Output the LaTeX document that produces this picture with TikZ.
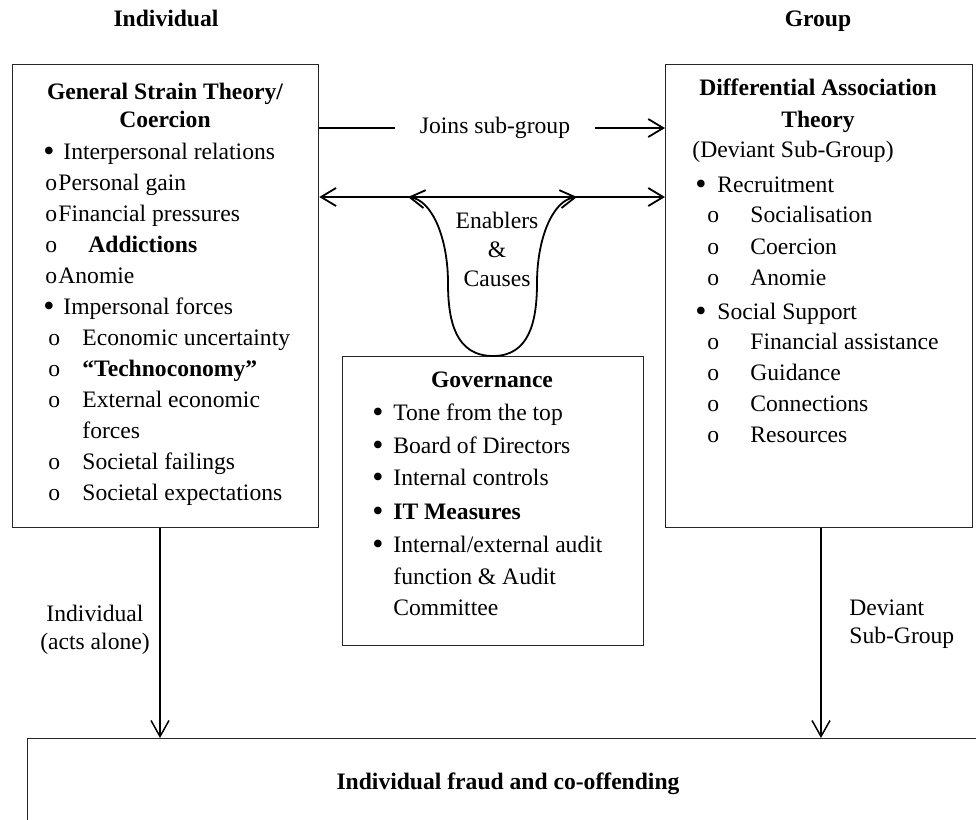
\documentclass[tikz,border=0pt]{standalone}
\usepackage{fontspec}
\setmainfont{Liberation Serif}
\usetikzlibrary{arrows.meta}
\newcommand\fs{\fontsize{11.8}{14.5}\selectfont}
\newcommand\bl[2]{\makebox[#1pt][l]{#2}}
\newcommand\bu{\raisebox{-0.11em}{\scalebox{1.35}{•}}}
\newcommand\li[4]{\node[txt] (#1) at (#2,#3) {#4};}
\begin{document}
\begin{tikzpicture}[x=0.5pt,y=-0.5pt,
  box/.style={draw=black!85, line width=0.65pt, inner sep=0, anchor=north west},
  txt/.style={anchor=base west, inner sep=0, font=\fs},
  ctxt/.style={anchor=base, inner sep=0, font=\fs\bfseries},
  conn/.style={line width=0.9pt},
  arr/.style={line width=0.9pt, -{Straight Barb[length=7.5pt,width=9pt,line width=0.9pt]}},
  darr/.style={line width=0.9pt, {Straight Barb[length=7.5pt,width=9pt,line width=0.9pt]}-{Straight Barb[length=7.5pt,width=9pt,line width=0.9pt]}},
  downarr/.style={line width=0.75pt, -{Straight Barb[length=8pt,width=9pt,line width=0.75pt]}}]
\useasboundingbox (0,0) rectangle (976,820);
\clip (0,0) rectangle (976,820);

% headers
\node[ctxt] (HI) at (166,26) {Individual};
\node[ctxt] (HG) at (818,26) {Group};

% boxes
\node[box, minimum width=153pt, minimum height=231.5pt] (L) at (12,64) {};
\node[box, minimum width=153.5pt, minimum height=231.5pt] (R) at (665,64) {};
\node[box, minimum width=150.5pt, minimum height=144.5pt] (G) at (342,356) {};
\node[box, minimum width=500pt, minimum height=100pt] (B) at (27,738) {};

% left box text
\node[ctxt] (L1) at (165,99) {General Strain Theory/};
\node[ctxt] (L2) at (165,127) {Coercion};
\li{L3}{43}{159}{\bl{10}{\bu}Interpersonal relations}
\li{L4}{45}{190}{\bl{6.5}{o}Personal gain}
\li{L5}{45}{221}{\bl{6.5}{o}Financial pressures}
\li{L6}{45}{252}{\bl{21.5}{o}\textbf{Addictions}}
\li{L7}{45}{283}{\bl{6.5}{o}Anomie}
\li{L8}{43}{314}{\bl{10}{\bu}Impersonal forces}
\li{L9}{48}{345}{\bl{17}{o}Economic uncertainty}
\li{L10}{48}{376}{\bl{17}{o}\textbf{“Technoconomy”}}
\li{L11}{48}{407}{\bl{17}{o}External economic}
\li{L12}{82}{438}{forces}
\li{L13}{48}{469}{\bl{17}{o}Societal failings}
\li{L14}{48}{500}{\bl{17}{o}Societal expectations}

% right box text
\node[ctxt] (R1) at (818,95) {Differential Association};
\node[ctxt] (R2) at (818,127) {Theory};
\li{R3}{692}{157}{(Deviant Sub-Group)}
\li{R4}{695}{192}{\bl{11}{\bu}Recruitment}
\li{R5}{707}{222}{\bl{21.5}{o}Socialisation}
\li{R6}{707}{254}{\bl{21.5}{o}Coercion}
\li{R7}{707}{285}{\bl{21.5}{o}Anomie}
\li{R8}{695}{319}{\bl{11}{\bu}Social Support}
\li{R9}{707}{349}{\bl{21.5}{o}Financial assistance}
\li{R10}{707}{380}{\bl{21.5}{o}Guidance}
\li{R11}{707}{411}{\bl{21.5}{o}Connections}
\li{R12}{707}{442}{\bl{21.5}{o}Resources}

% governance text
\node[ctxt] (G1) at (492,387) {Governance};
\li{G2}{372}{420}{\bl{10.5}{\bu}Tone from the top}
\li{G3}{372}{453}{\bl{10.5}{\bu}Board of Directors}
\li{G4}{372}{485}{\bl{10.5}{\bu}Internal controls}
\li{G5}{372}{519}{\bl{10.5}{\bu}\textbf{IT Measures}}
\li{G6}{372}{552}{\bl{10.5}{\bu}Internal/external audit}
\li{G7}{393}{584}{function \& Audit}
\li{G8}{393}{615}{Committee}

% joins sub-group
\node[font=\fs, inner xsep=12.5pt, inner ysep=0] (J) at (495,128) {Joins sub-group};
\draw[conn] (L.east |- J.west) -- (J.west);
\draw[arr] (J.east) -- (R.west |- J.east);

% double arrow
\coordinate (dy) at (0,197);
\coordinate (tl) at (408,197);
\coordinate (tr) at (577,197);
\draw[darr] (L.east |- dy) -- (R.west |- dy);

% enablers curve
\draw[arr] (G.north) .. controls (456,356) and (448,322) .. (448,283)
  .. controls (448,238) and (432,200) .. (tl);
\draw[arr] (G.north) .. controls (529,356) and (537,322) .. (537,283)
  .. controls (537,238) and (553,200) .. (tr);
\node[font=\fs, align=center, inner sep=0] (EC) at (497,249) {Enablers\\\&\\Causes};

% down arrows
\coordinate (ax) at (160,0);
\coordinate (bx) at (821,0);
\draw[downarr] (L.south -| ax) -- (B.north -| ax);
\draw[downarr] (R.south -| bx) -- (B.north -| bx);
\node[font=\fontsize{11.8}{14}\selectfont, align=center, inner sep=0] (IA) at (95,630) {Individual\\(acts alone)};
\node[font=\fontsize{11.8}{14}\selectfont, align=left, inner sep=0, anchor=west] (DS) at (849,624) {Deviant\\Sub-Group};

% bottom text
\node[ctxt] (BT) at (508,789) {Individual fraud and co-offending};
\end{tikzpicture}
\end{document}
